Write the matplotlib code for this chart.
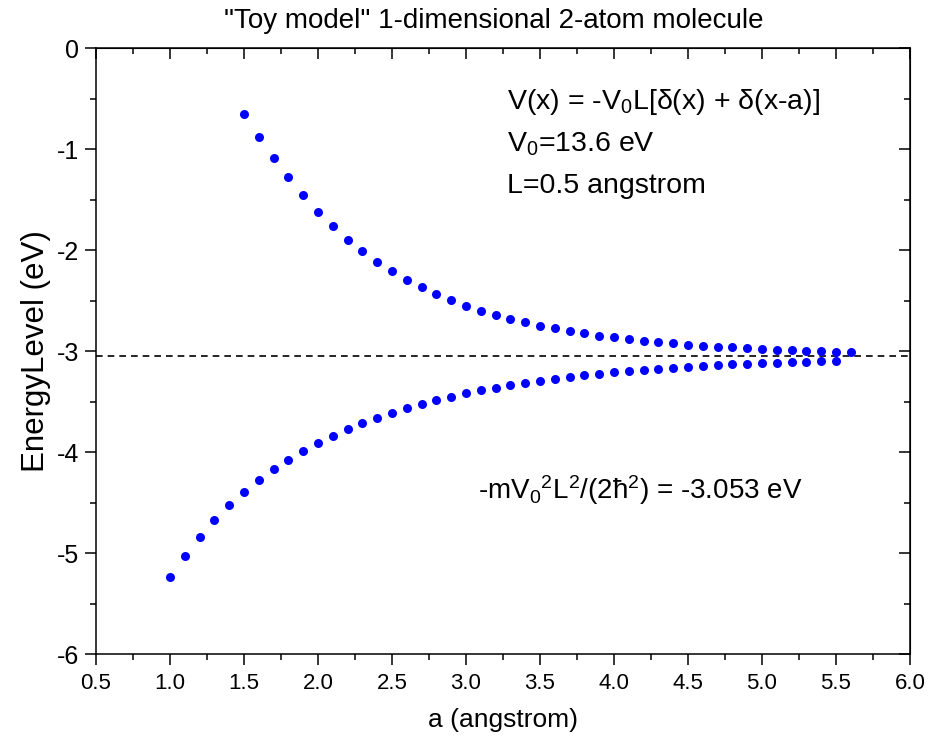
import matplotlib
matplotlib.use('Agg')
import matplotlib.pyplot as plt
from matplotlib.ticker import MultipleLocator, FormatStrFormatter

plt.rcParams['font.family'] = ['Liberation Sans', 'DejaVu Sans']
plt.rcParams['mathtext.fontset'] = 'custom'
plt.rcParams['mathtext.rm'] = 'Liberation Sans'
plt.rcParams['mathtext.default'] = 'regular'
plt.rcParams['axes.unicode_minus'] = False

# bonding (lower) branch, a = 1.0 .. 5.5
a_low = [1.0, 1.1, 1.2, 1.3, 1.4, 1.5, 1.6, 1.7, 1.8, 1.9,
         2.0, 2.1, 2.2, 2.3, 2.4, 2.5, 2.6, 2.7, 2.8, 2.9,
         3.0, 3.1, 3.2, 3.3, 3.4, 3.5, 3.6, 3.7, 3.8, 3.9,
         4.0, 4.1, 4.2, 4.3, 4.4, 4.5, 4.6, 4.7, 4.8, 4.9,
         5.0, 5.1, 5.2, 5.3, 5.4, 5.5]
e_low = [-5.236, -5.025, -4.837, -4.672, -4.525, -4.394, -4.277, -4.171, -4.076, -3.989,
         -3.911, -3.841, -3.774, -3.716, -3.661, -3.611, -3.566, -3.525, -3.487, -3.452,
         -3.419, -3.390, -3.363, -3.338, -3.315, -3.293, -3.274, -3.256, -3.240, -3.225,
         -3.210, -3.197, -3.186, -3.175, -3.164, -3.156, -3.147, -3.139, -3.132, -3.125,
         -3.119, -3.114, -3.109, -3.104, -3.100, -3.096]

# antibonding (upper) branch, a = 1.5 .. 5.6
a_up = [1.5, 1.6, 1.7, 1.8, 1.9,
        2.0, 2.1, 2.2, 2.3, 2.4, 2.5, 2.6, 2.7, 2.8, 2.9,
        3.0, 3.1, 3.2, 3.3, 3.4, 3.5, 3.6, 3.7, 3.8, 3.9,
        4.0, 4.1, 4.2, 4.3, 4.4, 4.5, 4.6, 4.7, 4.8, 4.9,
        5.0, 5.1, 5.2, 5.3, 5.4, 5.5, 5.6]
e_up = [-0.654, -0.877, -1.088, -1.282, -1.460,
        -1.621, -1.766, -1.896, -2.014, -2.118, -2.211, -2.295, -2.370, -2.437, -2.499,
        -2.550, -2.600, -2.643, -2.682, -2.717, -2.749, -2.777, -2.803, -2.826, -2.847,
        -2.866, -2.883, -2.899, -2.912, -2.925, -2.937, -2.947, -2.957, -2.965, -2.973,
        -2.980, -2.987, -2.992, -2.998, -3.003, -3.007, -3.011]

e_single = -3.053

fig = plt.figure(figsize=(9.31, 7.49), dpi=100)
ax = fig.add_axes([0.1031, 0.1268, 0.8743, 0.8091])

ax.axhline(e_single, color='black', ls=(0, (4, 3)), lw=1.2, zorder=1)
ax.plot(a_low, e_low, 'o', color='#0000ff', ms=6.5, mec='none', zorder=3)
ax.plot(a_up, e_up, 'o', color='#0000ff', ms=6.5, mec='none', zorder=3)

ax.set_xlim(0.5, 6.0)
ax.set_ylim(-6, 0)
ax.xaxis.set_major_locator(MultipleLocator(0.5))
ax.xaxis.set_minor_locator(MultipleLocator(0.25))
ax.xaxis.set_major_formatter(FormatStrFormatter('%.1f'))
ax.yaxis.set_major_locator(MultipleLocator(1))
ax.yaxis.set_minor_locator(MultipleLocator(0.5))

for s in ax.spines.values():
    s.set_linewidth(1.1)
ax.tick_params(which='both', direction='out', width=1.1)
ax.tick_params(which='major', length=8)
ax.tick_params(which='minor', length=4.5)
ax.tick_params(axis='x', labelsize=16, pad=6)
ax.tick_params(axis='y', labelsize=18, pad=4)

# inward ticks on the top and right edges
top = ax.secondary_xaxis('top')
top.xaxis.set_major_locator(MultipleLocator(0.5))
top.xaxis.set_minor_locator(MultipleLocator(0.25))
right = ax.secondary_yaxis('right')
right.yaxis.set_major_locator(MultipleLocator(1))
right.yaxis.set_minor_locator(MultipleLocator(0.5))
for sec in (top, right):
    sec.tick_params(which='both', direction='in', width=1.1, labeltop=False, labelright=False)
    sec.tick_params(which='major', length=8)
    sec.tick_params(which='minor', length=4.5)

ax.set_xlabel('a (angstrom)', fontsize=19, labelpad=10)
ax.set_ylabel('EnergyLevel (eV)', fontsize=22.5, labelpad=4)
fig.text(0.53, 0.962, '"Toy model" 1-dimensional 2-atom molecule', fontsize=20,
         ha='center', va='baseline')

ax.text(3.28, -0.6, 'V(x) = -V$_0$L[δ(x) + δ(x-a)]', fontsize=20.5, va='baseline')
ax.text(3.28, -1.02, 'V$_0$=13.6 eV', fontsize=20.5, va='baseline')
ax.text(3.28, -1.44, 'L=0.5 angstrom', fontsize=20.5, va='baseline')
ax.text(3.081, -4.47, '-mV$_0$$^2$L$^2$/(2ħ$^2$) = -3.053 eV', fontsize=20, va='baseline')

fig.savefig('out.png', dpi=100)
